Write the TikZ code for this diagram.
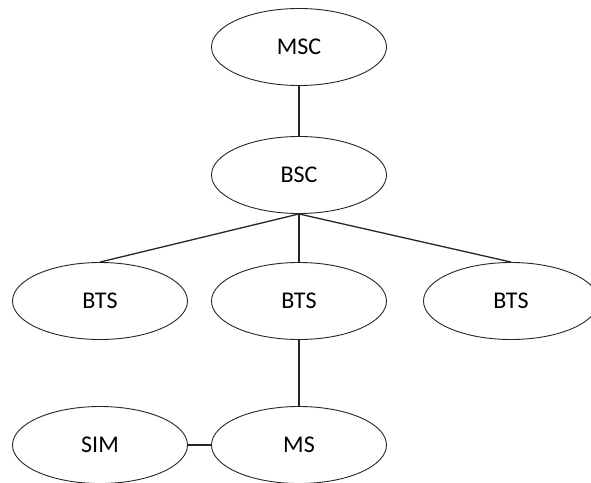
\documentclass[tikz,border=0pt]{standalone}
\usepackage{fontspec}
\setmainfont{Carlito}
\usetikzlibrary{shapes.geometric}
\begin{document}
\begin{tikzpicture}[x=1pt,y=-1pt,
  ell/.style={ellipse,draw=black!85,line width=0.9pt,minimum width=175pt,minimum height=77pt,inner sep=0pt,font=\fontsize{24}{27}\selectfont},
  link/.style={line width=1.3pt,draw=black!85}]
\useasboundingbox (0,0) rectangle (591,482);
\node[ell] (msc) at (299,47) {MSC};
\node[ell] (bsc) at (299,175) {BSC};
\node[ell] (bts1) at (100,301) {BTS};
\node[ell] (bts2) at (299,301) {BTS};
\node[ell] (bts3) at (511,301) {BTS};
\node[ell] (sim) at (100,445) {SIM};
\node[ell] (ms) at (299,445) {MS};
\draw[link] (msc.south) -- (bsc.north);
\draw[link] (bsc.south) -- (bts1.north);
\draw[link] (bsc.south) -- (bts2.north);
\draw[link] (bsc.south) -- (bts3.north);
\draw[link] (bts2.south) -- (ms.north);
\draw[link] (sim.east) -- (ms.west);
\end{tikzpicture}
\end{document}
